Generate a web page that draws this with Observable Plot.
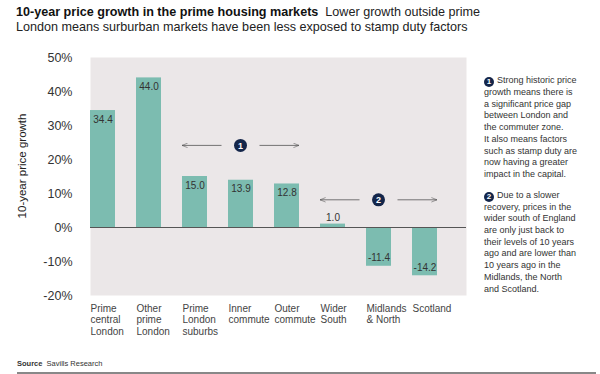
<!DOCTYPE html>
<html>
<head>
<meta charset="utf-8">
<script src="https://cdn.jsdelivr.net/npm/d3@7"></script>
<script src="https://cdn.jsdelivr.net/npm/@observablehq/plot@0.6"></script>
<style>
  html, body { margin: 0; padding: 0; background: #fff; }
  body { width: 600px; height: 374px; position: relative; overflow: hidden; font-family: "Liberation Sans", Arial, Helvetica, sans-serif; }
  #title { position: absolute; left: 16px; top: 5px; font-size: 12.6px; line-height: 15px; color: #222; white-space: nowrap; }
  #title b { color: #111; }
  #notes { position: absolute; left: 484px; top: 75px; width: 116px; font-size: 9px; line-height: 11.7px; color: #333; white-space: nowrap; }
  #notes p { margin: 0 0 9px 0; }
  .num { display: inline-block; width: 10px; height: 10px; border-radius: 50%; background: #14264a; color: #fff; font-weight: bold; font-size: 8px; line-height: 10px; text-align: center; vertical-align: -1px; margin-right: 3px; }
  #source { position: absolute; left: 17px; top: 359px; font-size: 7.5px; color: #333; }
  #rule { position: absolute; left: 17px; right: 4px; top: 372px; height: 1.5px; background: #888; }
  #chart { position: absolute; left: 0; top: 0; }
</style>
</head>
<body>
<div id="chart"></div>
<div id="title"><b>10-year price growth in the prime housing markets</b>&nbsp; Lower growth outside prime<br>London means surburban markets have been less exposed to stamp duty factors</div>
<div id="notes">
  <p><span class="num">1</span>Strong historic price<br>growth means there is<br>a significant price gap<br>between London and<br>the commuter zone.<br>It also means factors<br>such as stamp duty are<br>now having a greater<br>impact in the capital.</p>
  <p><span class="num">2</span>Due to a slower<br>recovery, prices in the<br>wider south of England<br>are only just back to<br>their levels of 10 years<br>ago and are lower than<br>10 years ago in the<br>Midlands, the North<br>and Scotland.</p>
</div>
<div id="source"><b>Source</b>&nbsp; Savills Research</div>
<div id="rule"></div>
<script>
const categories = ["Prime central London", "Other prime London", "Prime London suburbs", "Inner commute", "Outer commute", "Wider South", "Midlands & North", "Scotland"];
const axisLabels = ["Prime\ncentral\nLondon", "Other\nprime\nLondon", "Prime\nLondon\nsuburbs", "Inner\ncommute", "Outer\ncommute", "Wider\nSouth", "Midlands\n& North", "Scotland"];
const growth = [34.4, 44.0, 15.0, 13.9, 12.8, 1.0, -11.4, -14.2];
const yTicks = [-20, -10, 0, 10, 20, 30, 40, 50];
const yLabel = "10-year price growth";
const annotations = [
  {label: "1", from: "Prime London suburbs", to: "Outer commute", y: 24},
  {label: "2", from: "Wider South", to: "Scotland", y: 8}
];

const data = categories.map((c, i) => ({category: c, value: growth[i], axis: axisLabels[i]}));
const teal = "#7cbcb0";

const chart = Plot.plot({
  width: 600,
  height: 374,
  marginLeft: 90,
  marginRight: 134,
  marginTop: 57,
  marginBottom: 79,
  style: {fontFamily: "'Liberation Sans', Arial, Helvetica, sans-serif", background: "transparent", overflow: "visible"},
  x: {domain: categories, range: [90, 441], paddingInner: 0.46, paddingOuter: 0, align: 0, axis: null},
  y: {domain: [-20, 50], ticks: yTicks, label: null},
  marks: [
    Plot.frame({fill: "#ebe7e8", stroke: null}),
    Plot.barY(data, {x: "category", y: "value", fill: teal}),
    Plot.ruleY([0], {stroke: "#555", strokeWidth: 1}),
    Plot.axisY({ticks: yTicks, tickSize: 0, tickPadding: 18, tickFormat: d => d + "%", fontSize: 12.5, fill: "#333", label: null}),
    Plot.text(data.filter(d => d.value > 5), {x: "category", y: "value", text: d => d.value.toFixed(1), dy: 9, fontSize: 10, fill: "#333"}),
    Plot.text(data.filter(d => d.value >= 0 && d.value <= 5), {x: "category", y: "value", text: d => d.value.toFixed(1), dy: -6, fontSize: 10, fill: "#333"}),
    Plot.text(data.filter(d => d.value < 0), {x: "category", y: "value", text: d => d.value.toFixed(1), dy: -8, fontSize: 10, fill: "#333"}),
    Plot.text(data, {x: "category", y: () => -20, text: "axis", textAnchor: "start", lineAnchor: "top", dx: -12.5, dy: 8, lineHeight: 1.15, fontSize: 10, fill: "#444"})
  ]
});
document.getElementById("chart").appendChild(chart);

const sx = chart.scale("x"), sy = chart.scale("y");
const svg = d3.select(chart);

// rotated y-axis title
const [yBottom, yTop] = sy.range;
svg.append("text")
  .attr("transform", `translate(22,${(yBottom + yTop) / 2 - 10}) rotate(-90)`)
  .attr("text-anchor", "middle").attr("dy", "0.35em")
  .attr("font-size", 11.5).attr("fill", "#222").text(yLabel);

// annotation arrows positioned from the chart's own scales
const defs = svg.append("defs");
defs.append("marker").attr("id", "ah").attr("viewBox", "0 0 10 10").attr("refX", 10).attr("refY", 5)
  .attr("markerWidth", 7).attr("markerHeight", 7).attr("orient", "auto-start-reverse")
  .append("path").attr("d", "M0,1 L10,5 L0,9").attr("fill", "none").attr("stroke", "#555").attr("stroke-width", 1);
const g = svg.append("g");
for (const a of annotations) {
  const x1 = sx.apply(a.from), x2 = sx.apply(a.to) + sx.bandwidth;
  const y = sy.apply(a.y);
  const cx = (x1 + x2) / 2;
  g.append("line").attr("x1", cx - 19).attr("x2", x1).attr("y1", y).attr("y2", y)
    .attr("stroke", "#555").attr("stroke-width", 0.8).attr("marker-end", "url(#ah)");
  g.append("line").attr("x1", cx + 19).attr("x2", x2).attr("y1", y).attr("y2", y)
    .attr("stroke", "#555").attr("stroke-width", 0.8).attr("marker-end", "url(#ah)");
  g.append("circle").attr("cx", cx).attr("cy", y).attr("r", 6.5).attr("fill", "#14264a");
  g.append("text").attr("x", cx).attr("y", y).attr("dy", "0.35em").attr("text-anchor", "middle")
    .attr("fill", "#fff").attr("font-weight", "bold").attr("font-size", 9).text(a.label);
}
</script>
</body>
</html>
